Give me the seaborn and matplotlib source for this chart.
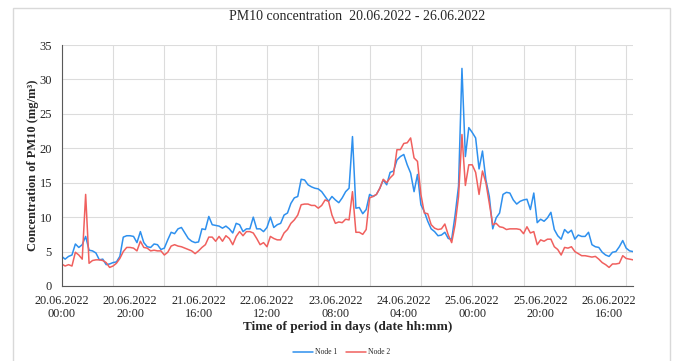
import numpy as np
import pandas as pd
import matplotlib
matplotlib.use("Agg")
import matplotlib.pyplot as plt
import seaborn as sns
from matplotlib.patches import Rectangle
from matplotlib.lines import Line2D

sns.set_style("white")
plt.rcParams["font.family"] = ["Liberation Serif", "DejaVu Serif"]

# hourly readings, 20.06.2022 00:00 -> 26.06.2022 23:00
node1 = [
    4.3, 3.9, 4.3, 4.5, 6.1, 5.6, 6.0, 7.2, 5.2, 5.1, 4.8, 3.8, 3.9, 3.1, 3.2, 3.4,
    3.5, 4.3, 7.1, 7.3, 7.3, 7.2, 6.3, 7.9, 6.3, 5.7, 5.6, 6.1, 6.0, 5.3, 5.5, 6.7,
    7.8, 7.6, 8.3, 8.5, 7.7, 6.9, 6.5, 6.3, 6.4, 8.3, 8.2, 10.1, 8.9, 8.8, 8.7, 8.4,
    8.7, 8.3, 7.7, 9.1, 8.9, 7.9, 8.3, 8.3, 10.0, 8.3, 8.3, 7.9, 8.5, 10.0, 8.5, 8.9,
    9.1, 10.3, 10.6, 12.0, 12.8, 13.0, 15.5, 15.4, 14.7, 14.4, 14.2, 14.1, 13.7, 13.0,
    12.3, 13.0, 12.5, 12.1, 12.8, 13.7, 14.2, 21.7, 11.3, 11.4, 10.5, 11.1, 13.3, 13.0,
    13.3, 14.2, 15.4, 14.7, 16.5, 16.7, 18.3, 18.8, 19.1, 17.6, 16.4, 13.7, 16.2, 11.8,
    10.8, 9.4, 8.3, 7.9, 7.3, 7.4, 7.8, 6.9, 6.8, 10.3, 14.5, 31.6, 18.8, 23.0, 22.3,
    21.5, 17.0, 19.6, 15.4, 13.0, 8.3, 9.9, 10.6, 13.3, 13.6, 13.5, 12.5, 11.9, 12.3,
    12.5, 12.6, 11.1, 13.5, 9.2, 9.7, 9.4, 9.9, 10.7, 8.2, 7.3, 6.8, 8.2, 7.7, 8.1,
    6.8, 7.4, 7.2, 7.2, 7.8, 6.0, 5.7, 5.6, 4.9, 4.5, 4.3, 4.9, 5.0, 5.7, 6.6, 5.5,
    5.1, 5.0,
]
node2 = [
    3.2, 2.9, 3.1, 2.9, 4.9, 4.5, 3.9, 13.3, 3.3, 3.7, 3.8, 3.8, 3.7, 3.4, 2.7, 2.9,
    3.3, 4.0, 5.0, 5.6, 5.6, 5.5, 5.1, 6.5, 5.6, 5.5, 5.1, 5.2, 5.1, 5.1, 4.5, 4.9,
    5.8, 6.0, 5.8, 5.7, 5.5, 5.3, 5.1, 4.7, 5.1, 5.6, 6.0, 7.1, 7.1, 6.5, 7.2, 6.5,
    7.3, 6.9, 6.0, 7.2, 7.9, 7.3, 7.9, 7.9, 7.7, 6.9, 6.0, 6.3, 5.7, 7.2, 6.9, 6.7,
    6.7, 7.7, 8.2, 9.1, 9.6, 10.3, 11.8, 11.9, 11.9, 11.7, 11.7, 11.3, 11.7, 12.5,
    12.3, 10.3, 9.1, 9.3, 9.2, 9.7, 9.6, 13.7, 7.8, 7.8, 7.5, 8.2, 12.8, 13.0,
    13.3, 14.2, 15.5, 15.0, 15.7, 16.2, 19.8, 19.8, 20.7, 20.8, 21.5, 18.6, 18.1, 13.3,
    10.6, 10.5, 8.9, 8.4, 8.2, 8.3, 9.0, 7.4, 6.3, 8.9, 13.0, 22.0, 14.6, 17.6, 17.6,
    16.5, 13.3, 16.7, 15.0, 12.0, 8.9, 9.1, 8.6, 8.5, 8.2, 8.3, 8.3, 8.3, 8.2,
    7.6, 8.6, 7.7, 7.9, 6.0, 6.7, 6.5, 6.8, 6.8, 5.7, 5.3, 4.5, 5.6, 5.5, 5.7,
    5.0, 4.7, 4.4, 4.4, 4.3, 4.2, 4.3, 3.9, 3.4, 3.1, 2.7, 3.2, 3.2, 3.3, 4.4, 4.0,
    3.9, 3.8,
]
tick_labels = [
    "20.06.2022\n00:00", "20.06.2022\n20:00", "21.06.2022\n16:00",
    "22.06.2022\n12:00", "23.06.2022\n08:00", "24.06.2022\n04:00",
    "25.06.2022\n00:00", "25.06.2022\n20:00", "26.06.2022\n16:00",
]
COLORS = {"Node 1": "#2E90EE", "Node 2": "#F0605E"}

hours = np.arange(len(node1))
df = pd.DataFrame({
    "hour": np.concatenate([hours, hours]),
    "value": node1 + node2,
    "node": ["Node 1"] * len(node1) + ["Node 2"] * len(node2),
})

fig = plt.figure(figsize=(6.74, 3.61), dpi=100)
ax = fig.add_axes([61.7 / 674, 75 / 361, (633 - 61.7) / 674, 241 / 361])

sns.lineplot(data=df, x="hour", y="value", hue="node", palette=COLORS,
             linewidth=1.1, ax=ax, legend=False)

ax.set_xlim(0, len(node1) - 1)
ax.set_ylim(0, 35)
ax.set_yticks(range(0, 36, 5))

# gridlines / tick marks every 15 h, labels every 20 h
ax.xaxis.remove_overlapping_locs = False
ax.set_xticks(np.arange(0, len(node1), 15))
ax.set_xticks(np.arange(0, len(node1), 20)[:len(tick_labels)], minor=True)
ax.set_xticklabels(tick_labels, minor=True, linespacing=1.1)
ax.tick_params(axis="x", which="major", labelbottom=False, direction="inout",
               length=6, width=0.8, color="#595959")
ax.tick_params(axis="x", which="minor", length=0, pad=6.5, labelsize=8.8)
ax.tick_params(axis="y", direction="out", length=4, width=0.8, color="#595959",
               labelsize=9, pad=3)
ax.grid(axis="y", color="#dcdcdc", linewidth=0.8)
ax.grid(axis="x", which="major", color="#dcdcdc", linewidth=0.8)

for s in ["top", "right"]:
    ax.spines[s].set_visible(False)
for s in ["left", "bottom"]:
    ax.spines[s].set_color("#595959")
    ax.spines[s].set_linewidth(0.8)

ax.set_xlabel("Time of period in days (date hh:mm)", fontsize=9.5,
              fontweight="bold", labelpad=1)
ax.set_ylabel("Concentration of PM10 (mg/m³)", fontsize=9,
              fontweight="bold", labelpad=0)
fig.text(0.53, 1 - 17 / 361, "PM10 concentration  20.06.2022 - 26.06.2022",
         ha="center", va="center", fontsize=10)

handles = [Line2D([], [], color=COLORS[k], linewidth=1.1) for k in COLORS]
fig.legend(handles, list(COLORS), loc="center", bbox_to_anchor=(0.507, 0.024),
           ncol=2, frameon=False, fontsize=5.5, handlelength=2.6,
           handletextpad=0.3, columnspacing=1.2)

fig.patches.append(Rectangle((13 / 674, -0.05), (670 - 13) / 674, 1.05 - 8 / 361,
                             transform=fig.transFigure, fill=False,
                             edgecolor="#d9d9d9", linewidth=1.0))

plt.savefig("out.png", dpi=100, facecolor="white")
plt.close()
